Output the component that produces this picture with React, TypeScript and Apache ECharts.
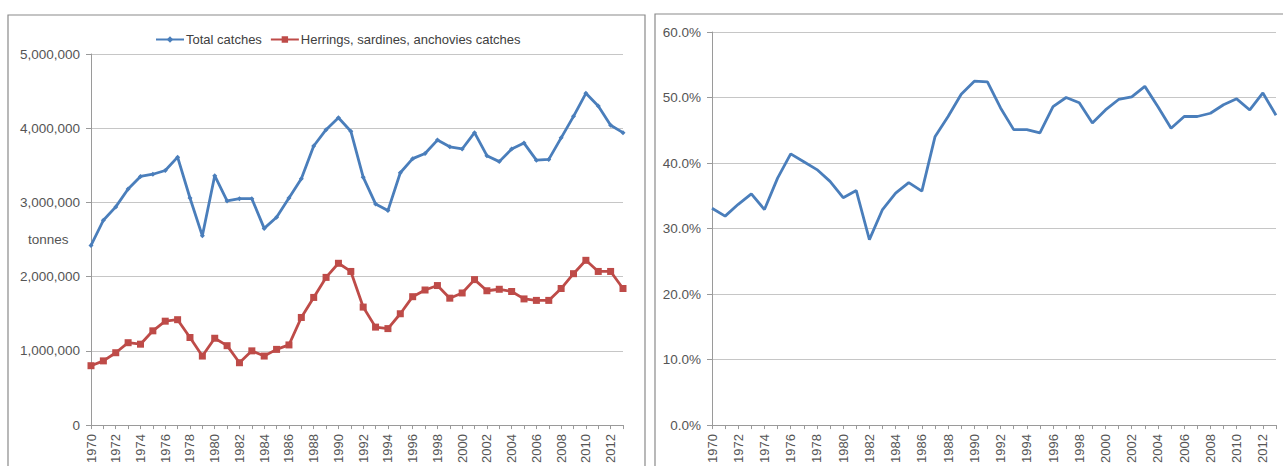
import React, { useEffect, useRef } from "react";
import * as echarts from "echarts";

const years: string[] = [];
for (let y = 1970; y <= 2013; y++) years.push(String(y));

const totalCatches = [
  2420000, 2760000, 2940000, 3180000, 3350000, 3380000, 3430000, 3610000, 3060000, 2550000,
  3360000, 3020000, 3050000, 3050000, 2650000, 2800000, 3060000, 3320000, 3760000, 3980000,
  4140000, 3960000, 3340000, 2980000, 2890000, 3400000, 3590000, 3660000, 3840000, 3750000,
  3720000, 3940000, 3630000, 3550000, 3720000, 3800000, 3570000, 3580000, 3870000, 4160000,
  4470000, 4300000, 4040000, 3940000,
];

const herringCatches = [
  800000, 865000, 975000, 1110000, 1090000, 1270000, 1400000, 1420000, 1180000, 930000,
  1170000, 1070000, 840000, 1000000, 930000, 1020000, 1080000, 1450000, 1720000, 1990000,
  2180000, 2070000, 1590000, 1320000, 1300000, 1500000, 1730000, 1820000, 1880000, 1710000,
  1780000, 1960000, 1810000, 1830000, 1800000, 1700000, 1680000, 1680000, 1840000, 2040000,
  2220000, 2070000, 2070000, 1840000,
];

const sharePct = [
  33.1, 31.9, 33.7, 35.3, 32.9, 37.7, 41.4, 40.2, 39.0, 37.2,
  34.7, 35.8, 28.3, 32.9, 35.4, 37.0, 35.7, 44.0, 47.1, 50.5,
  52.5, 52.4, 48.4, 45.1, 45.1, 44.6, 48.6, 50.0, 49.2, 46.1,
  48.1, 49.7, 50.1, 51.7, 48.6, 45.3, 47.1, 47.1, 47.6, 48.9,
  49.8, 48.1, 50.7, 47.3,
];

const FONT = "Liberation Sans";
const TEXT = "#555555";
const GRID = "#c6c6c6";
const AXIS = "#9a9a9a";
const BLUE = "#4a7ebb";
const RED = "#be4b48";

export default function App() {
  const ref = useRef<HTMLDivElement>(null);
  useEffect(() => {
    if (!ref.current) return;
    const chart = echarts.init(ref.current, undefined, { renderer: "svg" });
    const xAxisCommon = (gridIndex: number) => ({
      type: "category" as const,
      gridIndex,
      data: years,
      boundaryGap: false,
      axisLine: { show: true, lineStyle: { color: AXIS, width: 1 } },
      axisTick: { show: true, interval: 0, length: 4, lineStyle: { color: AXIS } },
      axisLabel: {
        interval: 1,
        rotate: 90,
        margin: 9,
        fontFamily: FONT,
        fontSize: 13,
        color: TEXT,
      },
      splitLine: { show: false },
    });
    chart.setOption({
      animation: false,
      backgroundColor: "#ffffff",
      textStyle: { fontFamily: FONT },
      graphic: [
        {
          type: "rect",
          shape: { x: 8, y: 15, width: 637, height: 480 },
          style: { fill: "none", stroke: "#8a8a8a", lineWidth: 1.2 },
          silent: true,
        },
        {
          type: "rect",
          shape: { x: 655, y: 14, width: 660, height: 480 },
          style: { fill: "none", stroke: "#8a8a8a", lineWidth: 1.2 },
          silent: true,
        },
        {
          type: "text",
          left: 28,
          top: 232,
          style: { text: "tonnes", fontFamily: FONT, fontSize: 13.5, fill: TEXT },
        },
      ],
      legend: {
        top: 28,
        left: 150,
        itemWidth: 28,
        itemHeight: 8,
        itemGap: 8,
        textStyle: { fontFamily: FONT, fontSize: 13, color: "#404040", padding: [0, 0, 0, -3] },
        data: ["Total catches", "Herrings, sardines, anchovies catches"],
      },
      grid: [
        { left: 91, top: 54, width: 532, height: 374 },
        { left: 712, top: 32, width: 564, height: 394 },
      ],
      xAxis: [xAxisCommon(0), xAxisCommon(1)],
      yAxis: [
        {
          type: "value",
          gridIndex: 0,
          min: 0,
          max: 5000000,
          interval: 1000000,
          axisLine: { show: true, lineStyle: { color: AXIS } },
          axisTick: { show: true, length: 5, lineStyle: { color: AXIS } },
          axisLabel: {
            margin: 11,
            fontFamily: FONT,
            fontSize: 13.5,
            color: TEXT,
            formatter: (v: number) => v.toLocaleString("en-US"),
          },
          splitLine: { show: true, lineStyle: { color: GRID, width: 1 } },
        },
        {
          type: "value",
          gridIndex: 1,
          min: 0,
          max: 60,
          interval: 10,
          axisLine: { show: true, lineStyle: { color: AXIS } },
          axisTick: { show: true, length: 5, lineStyle: { color: AXIS } },
          axisLabel: {
            margin: 11,
            fontFamily: FONT,
            fontSize: 13.5,
            color: TEXT,
            formatter: (v: number) => v.toFixed(1) + "%",
          },
          splitLine: { show: true, lineStyle: { color: GRID, width: 1 } },
        },
      ],
      series: [
        {
          name: "Total catches",
          type: "line",
          xAxisIndex: 0,
          yAxisIndex: 0,
          data: totalCatches,
          symbol: "diamond",
          symbolSize: 5,
          showSymbol: true,
          itemStyle: { color: BLUE },
          lineStyle: { color: BLUE, width: 2.8 },
        },
        {
          name: "Herrings, sardines, anchovies catches",
          type: "line",
          xAxisIndex: 0,
          yAxisIndex: 0,
          data: herringCatches,
          symbol: "rect",
          symbolSize: 7,
          showSymbol: true,
          itemStyle: { color: RED },
          lineStyle: { color: RED, width: 2.8 },
        },
        {
          name: "Share",
          type: "line",
          xAxisIndex: 1,
          yAxisIndex: 1,
          data: sharePct,
          showSymbol: false,
          symbol: "none",
          lineStyle: { color: BLUE, width: 2.8 },
        },
      ],
    });
    return () => chart.dispose();
  }, []);
  return (
    <div
      ref={ref}
      style={{ position: "absolute", left: 0, top: 0, width: 1283, height: 466 }}
    />
  );
}
